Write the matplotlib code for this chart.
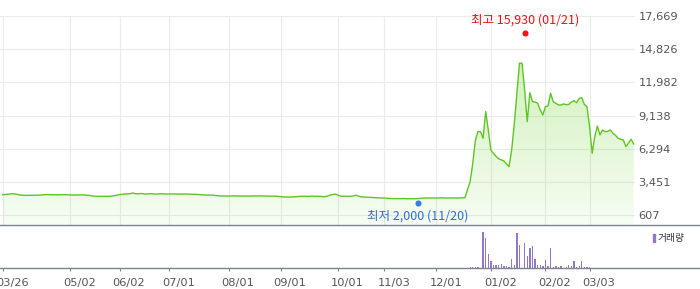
# 주가 차트 - 종가 라인(그라데이션 영역) + 거래량 막대
import numpy as np
import matplotlib.pyplot as plt
from matplotlib import transforms
from matplotlib.patches import Rectangle

plt.rcParams['font.family'] = ['DejaVu Sans', 'Noto Sans CJK KR']

# 거래일 기준 종가 (0 = 03/26)
close = [
    2371, 2390, 2410, 2440, 2457, 2420, 2380,
    2330, 2320, 2310, 2320, 2315, 2320, 2325, 2330,
    2350, 2371, 2380, 2371, 2365, 2371, 2360, 2371, 2375, 2365, 2360,
    2350, 2346, 2340, 2350, 2346, 2355, 2340, 2320,
    2280, 2240, 2234, 2230, 2234, 2240, 2234, 2230, 2250,
    2290, 2330, 2380,
    2400, 2431, 2440, 2450, 2517, 2460, 2440, 2470, 2450, 2431, 2440, 2460, 2431, 2420, 2440,
    2450, 2440, 2431, 2435, 2440, 2431, 2425, 2431, 2420, 2431, 2425, 2420, 2410, 2400, 2390,
    2370, 2350, 2346, 2340, 2346, 2330,
    2300, 2280, 2260, 2265, 2260, 2255, 2260, 2270, 2260, 2255, 2260, 2260, 2250,
    2255, 2260, 2265, 2260, 2270, 2260, 2255, 2250, 2245, 2250, 2240, 2230,
    2200, 2180, 2174, 2170, 2174, 2180,
    2200, 2220, 2234, 2240, 2234, 2230, 2250, 2234, 2240, 2230,
    2210, 2200, 2240,
    2330, 2380, 2420, 2346,
    2260, 2234, 2240, 2230, 2234, 2260, 2320,
    2250, 2190, 2170, 2160, 2150, 2140, 2120, 2110, 2100, 2090, 2080,
    2060, 2050, 2040, 2030, 2035, 2030, 2040, 2030, 2025, 2030, 2020, 2030, 2030,
    2060, 2080, 2090, 2085, 2090, 2095, 2080, 2090, 2100, 2090, 2085, 2090, 2095, 2090, 2085, 2090, 2100,
    2114, 2800, 3485, 5000, 7000, 7767, 7767, 7202, 9480, 7913,
    6200, 5900, 5650, 5450, 5350, 5258, 5000, 4770, 6200, 8400,
    11000, 13626, 13626, 11300, 8624, 11107, 10337, 10300, 10200, 9626,
    9198, 9908, 9968, 11056, 10337, 10200, 10054, 10054, 10140, 10080,
    10100, 10300, 10422, 10251, 10600, 10679, 10100, 9908, 8196, 5917,
    7339, 8256, 7485, 7913, 7767, 7800, 7913, 7630, 7450, 7200,
    7116, 7056, 6483, 6800, 7116, 6714,
]

# 거래량 (거래일 인덱스, 수량)
vol_days = [180, 181, 182, 183, 185, 186, 187, 188, 189, 190, 191, 192, 193, 194, 195,
            196, 197, 198, 199, 201, 202, 203, 204, 205, 206, 207, 208, 209, 210, 211,
            212, 213, 214, 215, 216, 217, 218, 219, 220, 221, 222, 223, 224, 225, 226,
            227, 229]
vol = [150, 150, 150, 150, 3600, 3000, 1400, 760, 330, 330, 330, 430, 230, 230, 130,
       960, 330, 3560, 2330, 2500, 1200, 2000, 2270, 930, 370, 370, 200, 870, 270, 2000,
       170, 200, 130, 200, 70, 130, 370, 200, 700, 130, 200, 700, 100, 100, 100,
       70, 70]

tick_days = [0, 26, 45, 64, 87, 107, 129, 147, 167, 188, 209, 226]
tick_labels = ["03/26", "05/02", "06/02", "07/01", "08/01", "09/01",
               "10/01", "11/03", "12/01", "01/02", "02/02", "03/03"]
price_ticks = [607, 3451, 6294, 9138, 11982, 14826, 17669]

hi_day, hi_val, hi_date = 201, 15930, "01/21"
lo_day, lo_val, lo_date = 160, 2000, "11/20"

W, H = 700, 289
fig = plt.figure(figsize=(7, 2.89), dpi=100)
ax = fig.add_axes([0, 1 - 225 / H, 635 / W, (225 - 16) / H])
axv = fig.add_axes([0, 1 - 268.3 / H, 1, (268.3 - 225) / H])

ymin, ymax = -224, 17669
xmin, xmax = -1.04, 243.5
x = np.arange(len(close))

# 그리드
ax.set_xticks(tick_days)
ax.set_yticks(price_ticks)
ax.set_yticklabels([f"{v:,}" for v in price_ticks])
ax.grid(True, color="#ebebeb", lw=0.8)
ax.set_axisbelow(True)
ax.yaxis.tick_right()
ax.tick_params(axis="x", bottom=False, labelbottom=False)
ax.tick_params(axis="y", length=0, pad=2.5, labelsize=8.2, labelcolor="#555555")
for s in ax.spines.values():
    s.set_visible(False)

# 그라데이션 영역
grad = np.zeros((256, 1, 4))
grad[..., 0], grad[..., 1], grad[..., 2] = 0.45, 0.84, 0.2
grad[:, 0, 3] = np.linspace(0.40, 0.06, 256)
im = ax.imshow(grad, extent=(xmin, xmax, ymin, ymax), aspect="auto",
               origin="upper", zorder=1)
fill = ax.fill_between(x, close, ymin, facecolor="none", edgecolor="none")
im.set_clip_path(fill.get_paths()[0], transform=ax.transData)

ax.plot(x, close, color="#5fc523", lw=1.0, zorder=3)
ax.set_xlim(xmin, xmax)
ax.set_ylim(ymin, ymax)

# 최고 / 최저 표시
up = transforms.offset_copy(ax.transData, fig=fig, y=3, units="dots")
dn = transforms.offset_copy(ax.transData, fig=fig, y=-3.7, units="dots")
ax.plot(hi_day, hi_val, "o", color="#ff1010", ms=4.4, mew=0, transform=up, zorder=4)
ax.plot(lo_day, lo_val, "o", color="#3580dc", ms=4.4, mew=0, transform=dn, zorder=4)
ax.annotate(f"최고 {hi_val:,} ({hi_date})", xy=(hi_day, hi_val), xytext=(0, 11.8),
            textcoords="offset points", ha="center", va="center", fontsize=9,
            color="#f01010", family=["Noto Sans CJK KR", "DejaVu Sans"])
ax.annotate(f"최저 {lo_val:,} ({lo_date})", xy=(lo_day, lo_val), xytext=(0, -12),
            textcoords="offset points", ha="center", va="center", fontsize=9,
            color="#2a6fd0", family=["Noto Sans CJK KR", "DejaVu Sans"])

# 거래량
axv.bar(vol_days, vol, width=0.5, color="#9478c8", linewidth=0)
axv.set_xlim(xmin, xmin + 700 / 2.597)
axv.set_ylim(0, 4330)
axv.set_yticks([])
axv.set_xticks(tick_days)
axv.set_xticklabels([])
axv.tick_params(axis="x", direction="out", length=2.3, width=0.8, color="#7d828c")
for side in ["left", "right"]:
    axv.spines[side].set_visible(False)
for side in ["top", "bottom"]:
    axv.spines[side].set_color("#7d828c")
    axv.spines[side].set_linewidth(1.0)
for d, lab in zip(tick_days, tick_labels):
    axv.annotate(lab, xy=(d, 0), xycoords=("data", "axes fraction"),
                 xytext=(-5.0, -12.7), textcoords="offset points",
                 ha="left", va="baseline", fontsize=8.2, color="#555555",
                 annotation_clip=False)

# 범례
fig.patches.append(Rectangle((652.7 / W, 1 - 241.7 / H), 2.6 / W, 8 / H,
                             transform=fig.transFigure, color="#9478c8"))
fig.text(658 / W, 1 - 237.7 / H, "거래량", ha="left", va="center", fontsize=7,
         color="#333333", family=["Noto Sans CJK KR", "DejaVu Sans"])

fig.savefig("out.png", dpi=100)
